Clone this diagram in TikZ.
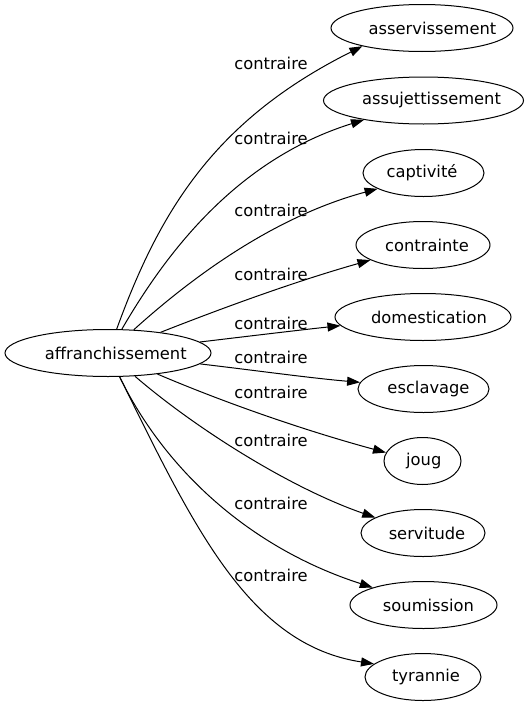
\documentclass[tikz,border=0pt]{standalone}
\usepackage{fontspec}
\setmainfont{DejaVu Sans}
\usetikzlibrary{arrows.meta,shapes.geometric}
\newcommand\shtext[2]{\makebox[0pt]{\hspace*{#1}#2}}
\begin{document}
\begin{tikzpicture}[x=1pt,y=-1pt,
  every node/.style={font=\fontsize{16.3}{19}\selectfont},
  term/.style={draw, ellipse, inner sep=0pt, line width=1pt, minimum height=47pt},
  rel/.style={line width=1pt, -{Triangle[length=13pt,width=9pt]}},
  lab/.style={inner sep=0pt}]
\path[use as bounding box] (0,0) rectangle (527,707);
\node[term, minimum width=206pt] (src) at (108,353) {\shtext{15.6pt}{affranchissement}};
\node[term, minimum width=182pt] (a1) at (422,28) {\shtext{21pt}{asservissement}};
\node[term, minimum width=200pt] (a2) at (423.5,100.5) {\shtext{16pt}{assujettissement}};
\node[term, minimum width=121pt] (a3) at (423.5,173) {\shtext{-3pt}{captivité}};
\node[term, minimum width=134pt] (a4) at (423,245) {\shtext{8pt}{contrainte}};
\node[term, minimum width=176pt] (a5) at (423,317) {\shtext{12pt}{domestication}};
\node[term, minimum width=131pt] (a6) at (423.5,389) {\shtext{10pt}{esclavage}};
\node[term, minimum width=77pt] (a7) at (422.5,461) {\shtext{2.6pt}{joug}};
\node[term, minimum width=124pt] (a8) at (423,533) {\shtext{8pt}{servitude}};
\node[term, minimum width=147pt] (a9) at (423.5,605) {\shtext{10pt}{soumission}};
\node[term, minimum width=116pt] (a10) at (423,677) {\shtext{6pt}{tyrannie}};
\node[lab] (l1) at (271,63) {contraire};
\node[lab] (l2) at (271,138) {contraire};
\node[lab] (l3) at (271,210) {contraire};
\node[lab] (l4) at (271,274) {contraire};
\node[lab] (l5) at (271,323) {contraire};
\node[lab] (l6) at (271,357) {contraire};
\node[lab] (l7) at (271,392) {contraire};
\node[lab] (l8) at (271,440) {contraire};
\node[lab] (l9) at (271,503) {contraire};
\node[lab] (l10) at (271,575) {contraire};
\draw[rel] (src) .. controls (160,210) and (215,120) .. (a1.197);
\draw[rel] (src) .. controls (165,255) and (235,160) .. (a2.198);
\draw[rel] (src) .. controls (200,270) and (280,215) .. (a3.199);
\draw[rel] (src) .. controls (230,305) and (300,280) .. (a4.196);
\draw[rel] (src) .. controls (250,336) and (300,330) .. (a5.186);
\draw[rel] (src) .. controls (260,371) and (310,378) .. (a6.174);
\draw[rel] (src) .. controls (230,405) and (310,432) .. (a7.167);
\draw[rel] (src) .. controls (195,428) and (290,488) .. (a8.162);
\draw[rel] (src) .. controls (165,470) and (250,548) .. (a9.161);
\draw[rel] (src) .. controls (195,530) and (250,645) .. (a10.165);
\end{tikzpicture}
\end{document}
